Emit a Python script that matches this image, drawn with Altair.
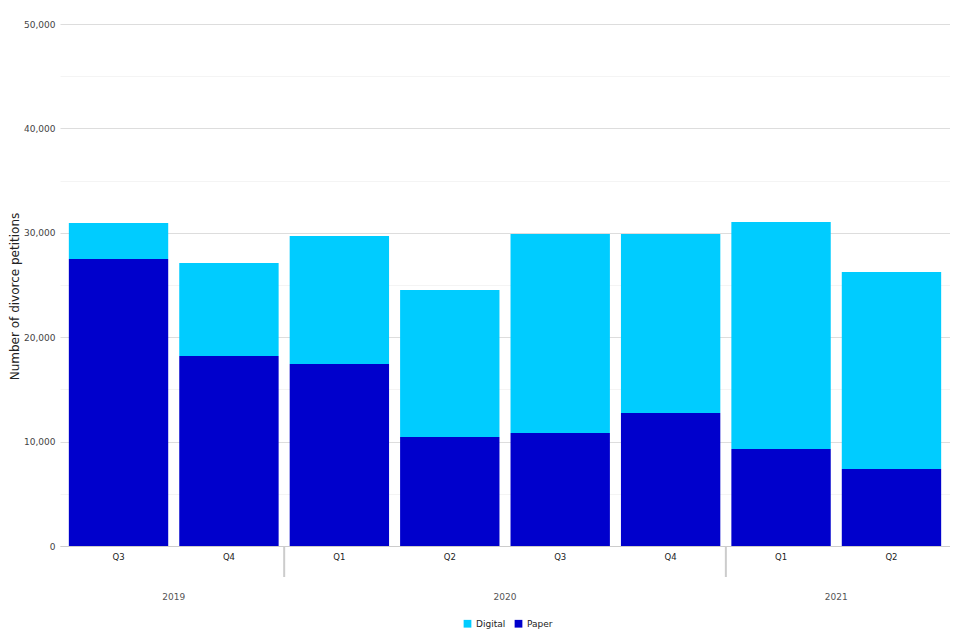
import altair as alt
import pandas as pd

years = ["2019", "2019", "2020", "2020", "2020", "2020", "2021", "2021"]
quarters = ["Q3", "Q4", "Q1", "Q2", "Q3", "Q4", "Q1", "Q2"]
paper = [27490, 18200, 17430, 10440, 10820, 12740, 9290, 7380]
digital = [3450, 8910, 12260, 14080, 19070, 17150, 21740, 18870]
series = ["Digital", "Paper"]
colors = ["#00ccff", "#0000cc"]
y_ticks = list(range(0, 50001, 5000))

cats = [f"{y} {q}" for y, q in zip(years, quarters)]
rows = []
for c, p, d in zip(cats, paper, digital):
    rows.append({"cat": c, "series": "Paper", "value": p, "ord": 0})
    rows.append({"cat": c, "series": "Digital", "value": d, "ord": 1})
df = pd.DataFrame(rows)

# year group labels anchored at the middle of each year's group of quarters
uniq = []
for y in years:
    if y not in uniq:
        uniq.append(y)
year_rows = []
for y in uniq:
    idx = [i for i, yy in enumerate(years) if yy == y]
    year_rows.append({"year": y, "cat": cats[idx[len(idx) // 2]]})
ydf = pd.DataFrame(year_rows)
sep_df = pd.DataFrame({"cat": [cats[i] for i in range(1, len(cats)) if years[i] != years[i - 1]]})

FONT = "DejaVu Sans"
W, H = 890, 522

xscale = alt.Scale(domain=cats, paddingInner=0.1, paddingOuter=0.08)

bars = alt.Chart(df).mark_bar().encode(
    x=alt.X("cat:N", scale=xscale, sort=cats,
            axis=alt.Axis(title=None, labelAngle=0, ticks=False, domainColor="#cccccc",
                          labelExpr="split(datum.label, ' ')[1]", labelFontSize=8.5,
                          labelColor="#222222", labelPadding=6, grid=False)),
    y=alt.Y("value:Q", stack="zero", scale=alt.Scale(domain=[0, 50000], nice=False),
            axis=alt.Axis(title="Number of divorce petitions", values=y_ticks,
                          labelExpr="datum.value % 10000 === 0 ? format(datum.value, ',') : ''",
                          ticks=False, domain=False, labelFontSize=9, labelColor="#444444",
                          titleFontSize=12, titleFontWeight="normal", titleColor="#222222",
                          titlePadding=2, labelPadding=5, titleY=272,
                          gridColor={"condition": {"test": "datum.value % 10000 === 0", "value": "#dddddd"},
                                     "value": "#f4f4f4"})),
    color=alt.Color("series:N", scale=alt.Scale(domain=series, range=colors),
                    legend=alt.Legend(title=None, orient="none", direction="horizontal",
                                      legendX=403, legendY=595,
                                      symbolType="square", symbolSize=60, labelFontSize=9,
                                      labelColor="#222222", symbolStrokeWidth=0,
                                      columnPadding=8, labelOffset=4)),
    order=alt.Order("ord:Q", sort="ascending"),
)

seps = alt.Chart(sep_df).mark_rule(color="#cccccc", strokeWidth=2, xOffset=-5.5).encode(
    x=alt.X("cat:N", scale=xscale, sort=cats, bandPosition=0),
    y=alt.value(H),
    y2=alt.value(H + 31),
)

ylabels = alt.Chart(ydf).mark_text(fontSize=9, color="#555555", font=FONT, xOffset=-5.5).encode(
    x=alt.X("cat:N", scale=xscale, sort=cats, bandPosition=0),
    y=alt.value(H + 51),
    text="year:N",
)

chart = alt.layer(bars, seps, ylabels).properties(
    width=W, height=H,
    padding={"left": 0, "top": 12, "right": 0, "bottom": 0},
).configure(font=FONT).configure_view(stroke=None).configure_axis(labelFont=FONT, titleFont=FONT)

chart.save("out.html", embed_options={"renderer": "svg", "actions": False})
